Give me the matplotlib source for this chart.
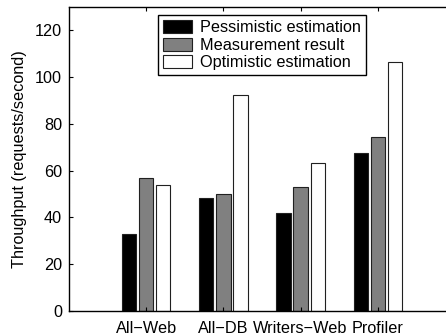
import matplotlib
matplotlib.use("Agg")
import matplotlib.pyplot as plt
import numpy as np

categories = ["All\u2212Web", "All\u2212DB", "Writers\u2212Web", "Profiler"]
series_names = ["Pessimistic estimation", "Measurement result", "Optimistic estimation"]
pessimistic = [32.8, 48.3, 41.7, 67.7]
measured = [57.0, 49.9, 52.9, 74.2]
optimistic = [53.7, 92.3, 63.5, 106.3]
yticks = [0, 20, 40, 60, 80, 100, 120]

FS = 11.7
plt.rcParams['font.family'] = ['Liberation Sans', 'DejaVu Sans']
fig = plt.figure(figsize=(4.46, 3.34), dpi=100)
ax = fig.add_axes([69/446, 23/334, 386/446, 304/334])

x = np.arange(1, len(categories) + 1)
off = 0.222
w = 0.185
colors = ["black", "#808080", "white"]
for i, (vals, name) in enumerate(zip([pessimistic, measured, optimistic], series_names)):
    ax.bar(x + (i - 1) * off, vals, w, color=colors[i], edgecolor="#202020",
           linewidth=0.8, label=name)

ax.set_xlim(0, 5)
ax.set_ylim(0, 130)
ax.set_xticks(x)
ax.set_xticklabels(categories, fontsize=FS)
ax.set_yticks(yticks)
ax.set_yticklabels([str(t) for t in yticks], fontsize=FS)
ax.tick_params(direction='in', length=3, width=0.8, top=True, right=True, pad=5)
ax.tick_params(axis='x', pad=7)
ax.set_ylabel("Throughput (requests/second)", fontsize=FS, labelpad=6)
for s in ax.spines.values():
    s.set_linewidth(1.0)

leg = ax.legend(loc='upper center', fontsize=FS, frameon=True, fancybox=False,
                edgecolor='black', framealpha=1, handlelength=1.8, handleheight=0.87,
                handletextpad=0.5, labelspacing=0.15, borderpad=0.3,
                borderaxespad=0.5)
leg.get_frame().set_linewidth(1.0)

fig.savefig("out.png", dpi=100)
